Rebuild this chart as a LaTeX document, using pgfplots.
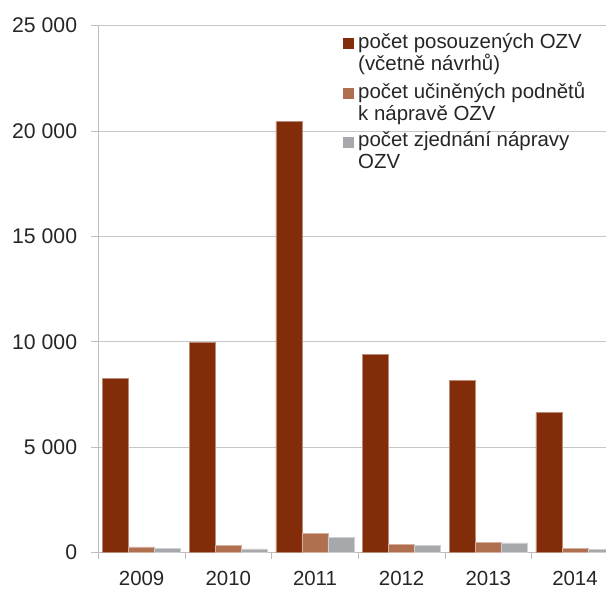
\documentclass[border=0pt]{standalone}
\usepackage{pgfplots}
\pgfplotsset{compat=1.18}
\usepackage{fontspec}
\setmainfont{Liberation Sans}
\definecolor{c1}{HTML}{832C0A}
\definecolor{c2}{HTML}{B07050}
\definecolor{c3}{HTML}{A7A8AC}
\definecolor{txt}{HTML}{262626}
\definecolor{axl}{HTML}{BDBDBD}
\begin{document}
\begin{tikzpicture}[x=1bp,y=1bp]
\begin{axis}[
  scale only axis, width=520bp, height=526.7bp,
  xmin=-0.5, xmax=5.5, ymin=0, ymax=25000,
  scaled y ticks=false,
  ybar=0pt, bar width=26bp,
  axis x line*=bottom, axis y line*=left,
  axis line style={axl, line width=0.9bp},
  ytick={0,5000,10000,15000,20000,25000},
  yticklabels={0,5 000,10 000,15 000,20 000,25 000},
  xtick={-0.5,0.5,1.5,2.5,3.5,4.5,5.5},
  xticklabels={2009,2010,2011,2012,2013,2014},
  x tick label as interval,
  ymajorgrids, grid style={axl!85, line width=0.9bp},
  tick align=outside, major tick length=7bp,
  tick style={axl, line width=0.9bp},
  tick label style={font=\fontsize{20.5}{24}\selectfont, text=txt},
  yticklabel style={anchor=east, inner sep=0pt, xshift=-14bp, font=\fontsize{21.3}{24}\selectfont},
  xticklabel style={anchor=north, inner sep=0pt, yshift=-12bp},
  legend cell align=left,
  legend image code/.code={\fill[#1,draw=none] (0bp,3bp) rectangle (11bp,14bp);},
  legend style={at={(rel axis cs:0.4706,0.986)}, anchor=north west,
    draw=none, fill=none, inner sep=0pt, row sep=10bp, column sep=4bp,
    font=\fontsize{20.5}{22}\selectfont, text=txt,
    nodes={inner sep=0pt, align=left}},
]
\addplot[fill=c1, draw=c1!55!white, line width=0.5bp] coordinates {(0,8260) (1,9960) (2,20450) (3,9390) (4,8170) (5,6640)};
\addlegendentry{počet posouzených OZV\\(včetně návrhů)}
\addplot[fill=c2, draw=c2!55!white, line width=0.5bp] coordinates {(0,265) (1,330) (2,915) (3,395) (4,490) (5,205)};
\addlegendentry{počet učiněných podnětů\\k nápravě OZV}
\addplot[fill=c3, draw=c3!55!white, line width=0.5bp] coordinates {(0,205) (1,170) (2,727) (3,316) (4,458) (5,158)};
\addlegendentry{počet zjednání nápravy\\OZV}
\coordinate (ll) at (rel axis cs:0,0);
\end{axis}
\pgfresetboundingbox
\useasboundingbox (ll) ++(-98.3,-36.6) rectangle ++(606,589);
\end{tikzpicture}
\end{document}
